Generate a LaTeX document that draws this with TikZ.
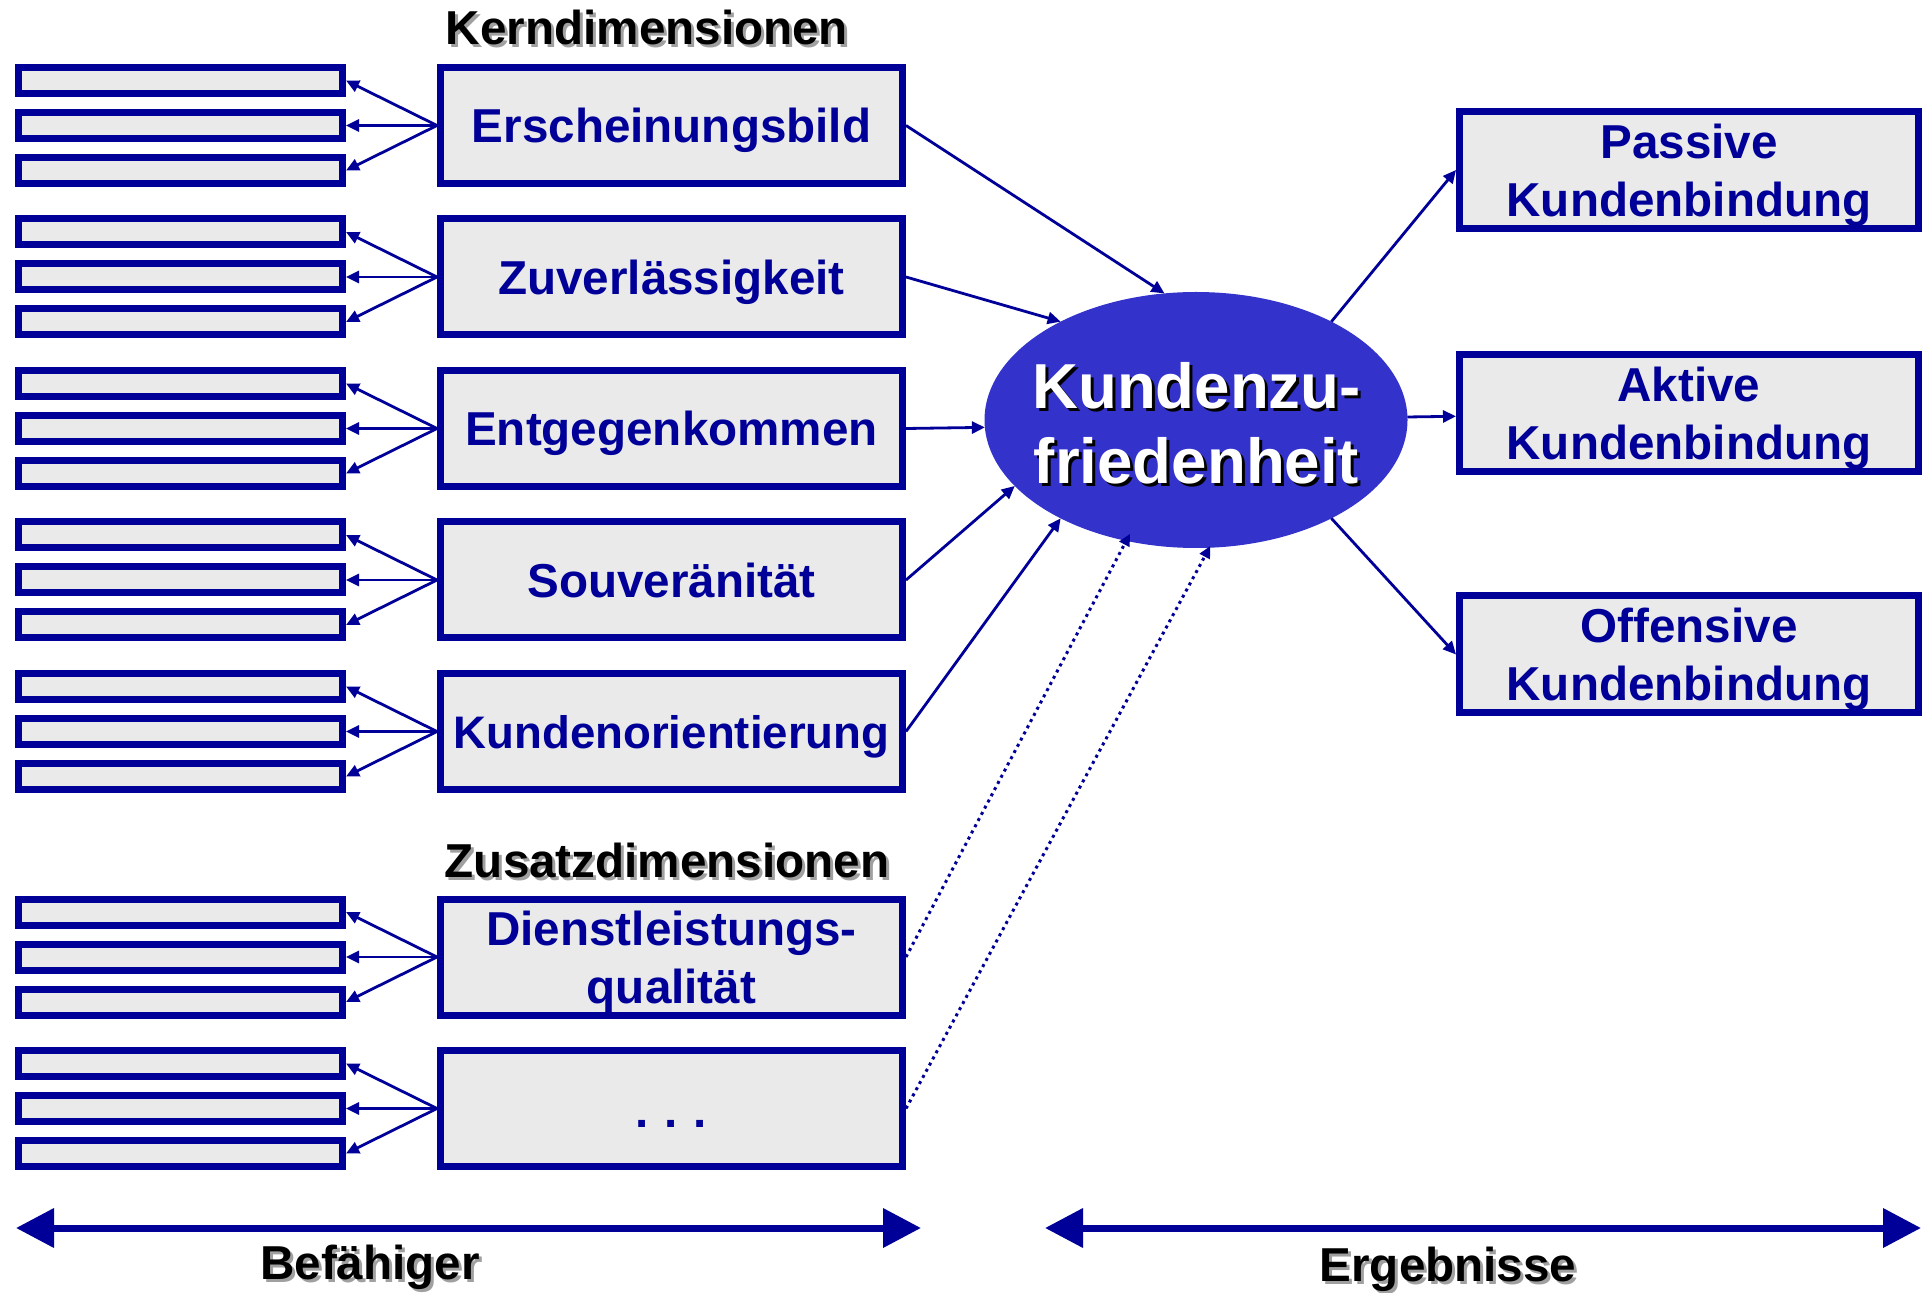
\documentclass[tikz,border=0pt]{standalone}
\usepackage{fontspec}
\setmainfont{Liberation Sans}
\usetikzlibrary{arrows.meta,shapes.geometric,calc}
\definecolor{navy}{RGB}{0,0,153}
\definecolor{boxgray}{RGB}{234,234,234}
\definecolor{ellblue}{RGB}{51,51,204}
\definecolor{shadowgray}{RGB}{160,160,160}
\begin{document}
\begin{tikzpicture}[x=0.5pt,y=-0.5pt,
  sbox/.style={draw=navy,fill=boxgray,line width=3.5pt,minimum width=162pt,minimum height=13pt,inner sep=0pt},
  bbox/.style={draw=navy,fill=boxgray,line width=3.5pt,minimum width=231pt,minimum height=58pt,inner sep=0pt,text=navy,font=\fontsize{23.8}{29}\selectfont\bfseries,align=center,text depth=0pt},
  rbox/.style={bbox,minimum width=229.5pt,minimum height=58.5pt},
  conn/.style={draw=navy,line width=1.4pt,-{Triangle[length=6.5pt,width=6pt]}},
  dotconn/.style={draw=navy,line width=1.5pt,dash pattern=on 1.5pt off 2pt,-{Triangle[length=6pt,width=5.5pt]}},
  bigarr/.style={draw=navy,line width=3.5pt,{Triangle[length=19pt,width=19pt]}-{Triangle[length=19pt,width=19pt]}},
  heading/.style={font=\fontsize{23.8}{29}\selectfont\bfseries,inner sep=0pt},
  elltext/.style={font=\fontsize{31.8}{37.5}\selectfont\bfseries,align=center,inner sep=0pt},
]
\useasboundingbox (0,0) rectangle (1932,1293);

% headings
\node[heading,text=shadowgray] at (650,30) {Kerndimensionen};
\node[heading] (hk) at (647,27) {Kerndimensionen};
\node[heading,text=shadowgray] at (670,863) {Zusatzdimensionen};
\node[heading] (hz) at (667,860) {Zusatzdimensionen};

% dimension boxes
\node[bbox] (b1) at (671.5,125.5) {Erscheinungsbild};
\node[bbox] (b2) at (671.5,277) {Zuverlässigkeit};
\node[bbox] (b3) at (671.5,428.5) {Entgegenkommen};
\node[bbox] (b4) at (671.5,580) {Souveränität};
\node[bbox,font=\fontsize{22.8}{29}\selectfont\bfseries] (b5) at (671.5,731.5) {Kundenorientierung};
\node[bbox] (b6) at (671.5,957) {Dienstleistungs-\\qualität};
\node[bbox] (b7) at (671.5,1108.5) {};
\node[text=navy,font=\fontsize{23.8}{29}\selectfont\bfseries,inner sep=0pt] (dots) at (671.5,1124) {.\,\,.\,\,.};

% indicator boxes and arrows
\foreach \i/\cy in {1/125.5,2/277,3/428.5,4/580,5/731.5,6/957,7/1108.5}{
  \node[sbox] (s\i a) at (180.5,\cy-45) {};
  \node[sbox] (s\i b) at (180.5,\cy) {};
  \node[sbox] (s\i c) at (180.5,\cy+45) {};
  \draw[conn] (b\i.west) -- (s\i a.east);
  \draw[conn] (b\i.west) -- (s\i b.east);
  \draw[conn] (b\i.west) -- (s\i c.east);
}

% central ellipse
\node[ellipse,fill=ellblue,draw=none,minimum width=211.5pt,minimum height=128pt,inner sep=0pt,outer sep=0pt] (kz) at (1196,420) {};
\node[elltext,text=black] at (1199.5,426.5) {Kundenzu-\\friedenheit};
\node[elltext,text=white] (kzt) at (1196.5,423) {Kundenzu-\\friedenheit};

% outcome boxes
\node[rbox] (pas) at (1689,170) {Passive\\Kundenbindung};
\node[rbox] (akt) at (1689,413) {Aktive\\Kundenbindung};
\node[rbox] (off) at (1689,654.5) {Offensive\\Kundenbindung};

% connectors to ellipse
\draw[conn] (b1.east) -- (kz.104);
\draw[conn] (b2.east) -- (kz.144.5);
\draw[conn] (b3.east) -- (kz.182);
\draw[conn] (b4.east) -- (kz.200.7);
\draw[conn] (b5.east) -- (kz.216);
\draw[dotconn,shorten >=-4pt] (b6.east) -- (kz.240);
\draw[dotconn,shorten >=-1pt] (b7.east) -- (kz.276);

% connectors from ellipse
\draw[conn] (kz.36) -- (pas.west);
\draw[conn] (kz) -- (akt);
\draw[conn] (kz.324) -- (off.west);

% bottom arrows
\coordinate (la) at (16,1228);
\coordinate (lb) at (921,1228);
\coordinate (ra) at (1045,1228);
\coordinate (rb) at (1921,1228);
\draw[bigarr] (la) -- (lb);
\draw[bigarr] (ra) -- (rb);
\node[heading,text=shadowgray] at (373,1270) {Befähiger};
\node[heading] (bef) at (370,1267) {Befähiger};
\node[heading,text=shadowgray] at (1451,1272) {Ergebnisse};
\node[heading] (erg) at (1448,1269) {Ergebnisse};
\end{tikzpicture}
\end{document}
